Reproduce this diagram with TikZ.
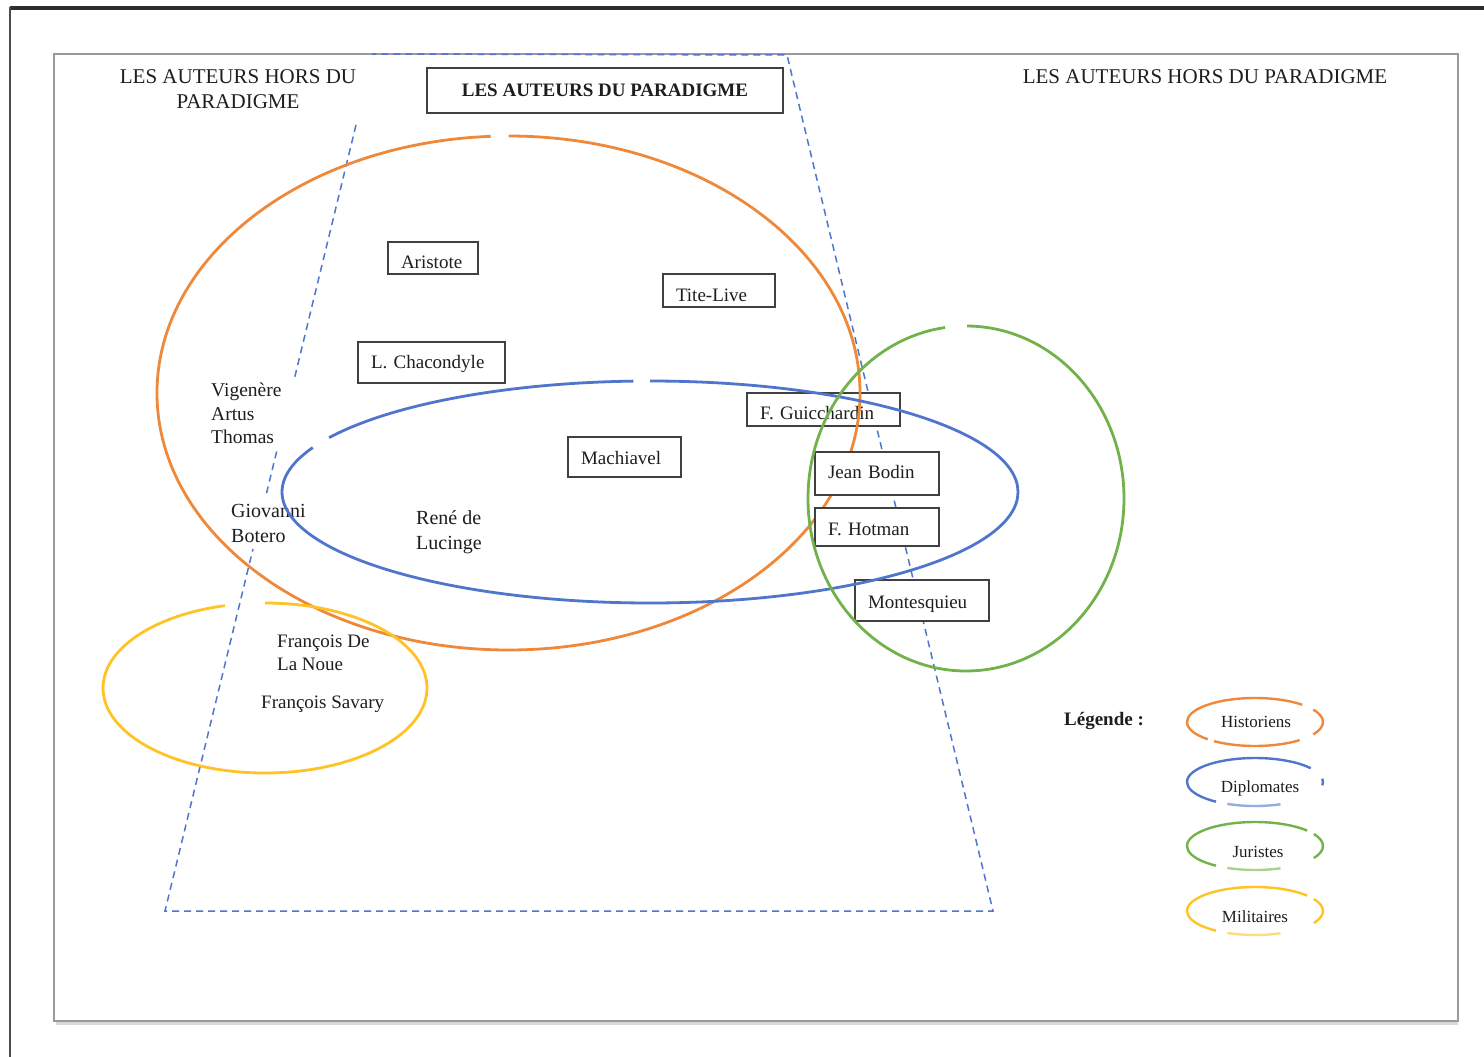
\documentclass[tikz,border=0pt]{standalone}
\usepackage{fontspec}
\setmainfont{Liberation Serif}
\definecolor{cOrange}{HTML}{F0883A}
\definecolor{cBlue}{HTML}{4F76CC}
\definecolor{cGreen}{HTML}{72B24A}
\definecolor{cYellow}{HTML}{FFC325}
\definecolor{cFrame}{HTML}{9A9A9A}
\definecolor{cBox}{HTML}{404040}
\definecolor{cText}{HTML}{1E1E1E}
\newcommand\lowtxt[2]{\raisebox{-#1}[\height][\depth]{#2}}
\tikzset{
  namebox/.style={draw=cBox, line width=1.8pt, fill=white, inner xsep=13pt, inner ysep=0pt,
    align=left, text=cText, font=\fontsize{19}{23}\selectfont, anchor=center},
  freetext/.style={align=left, text=cText, font=\fontsize{19.5}{23.5}\selectfont, inner sep=0pt},
  titletext/.style={align=center, text=cText, font=\fontsize{21}{25}\selectfont, inner sep=0pt},
  trap/.style={draw=cBlue, line width=1.5pt, dash pattern=on 7pt off 5pt},
  bigell/.style={line width=2.8pt},
  legell/.style={line width=2.4pt},
  legtext/.style={text=cText, font=\fontsize{17}{20}\selectfont, inner sep=0pt}
}
\begin{document}
\begin{tikzpicture}[x=1pt,y=-1pt]
\useasboundingbox (0,0) rectangle (1484,1057);
\fill[white] (0,0) rectangle (1484,1057);
% page frame
\draw[line width=4pt, color=black!82] (10,8) -- (1484,8);
\draw[line width=2pt, color=black!70] (10,7) -- (10,1057);
\draw[line width=3pt, color=black!15] (56,1023.5) -- (1458,1023.5);
\draw[line width=1.8pt, color=cFrame] (54,54) rectangle (1458,1021);

% dashed trapezoid (paradigm zone)
\draw[trap] (356,125) -- (165,911) -- (993,911) -- (787,55) -- (372,54);

% titles
\node[titletext] (tl) at (238,89) {LES AUTEURS HORS DU\\PARADIGME};
\node[titletext] (tr) at (1205,77) {LES AUTEURS HORS DU PARADIGME};
\node[draw=cBox, line width=1.8pt, fill=white, minimum width=356pt, minimum height=45pt,
  font=\fontsize{19}{23}\selectfont\bfseries, text=cText, inner sep=0pt] (tc) at (605,90.5) {LES AUTEURS DU PARADIGME};

% free texts (white background hides the dashed line)
\node[freetext, fill=white, anchor=north west, text width=84pt, inner xsep=3pt, inner ysep=6pt] (vig) at (208,377) {Vigenère\\Artus\\Thomas};
\node[freetext, fill=white, anchor=north west, text width=80pt, inner xsep=3pt, inner ysep=6pt, font=\fontsize{20}{25}\selectfont] (gio) at (228,498) {Giovanni\\Botero};
\node[freetext, anchor=north west, font=\fontsize{20}{25}\selectfont] (ren) at (416,510) {René de\\Lucinge};
\node[freetext, anchor=north west, font=\fontsize{19}{23}\selectfont] (fdn) at (277,635) {François De\\La Noue};
\node[freetext, anchor=north west, font=\fontsize{19}{23}\selectfont] (fsa) at (261,696) {François Savary};

% box drawn below the orange ellipse
\node[namebox, text width=127pt, minimum height=33pt] (gui) at (823.5,409.5) {\lowtxt{4pt}{F. Guicchardin}};

% orange (historiens) and yellow (militaires) ellipses
\draw[bigell, cOrange] (508.5,393) ++(270:351.5 and 257) arc[start angle=270, end angle=627.1, x radius=351.5, y radius=257];
\draw[bigell, cYellow] (265,688) ++(270:162 and 85) arc[start angle=270, end angle=615.7, x radius=162, y radius=85];

% name boxes
\node[namebox, text width=64pt, minimum height=32pt] (ari) at (433,258) {\lowtxt{4pt}{Aristote}};
\node[namebox, text width=86pt, minimum height=33pt] (tit) at (719,290.5) {\lowtxt{5pt}{Tite-Live}};
\node[namebox, text width=121pt, minimum height=41pt] (cha) at (431.5,362.5) {\lowtxt{1pt}{L. Chacondyle}};
\node[namebox, text width=87pt, minimum height=40pt] (mac) at (624.5,457) {\lowtxt{1pt}{Machiavel}};
\node[namebox, text width=98pt, minimum height=43pt] (bod) at (877,473.5) {\lowtxt{-2pt}{Jean Bodin}};
\node[namebox, text width=98pt, minimum height=38pt] (hot) at (877,527) {\lowtxt{2pt}{F. Hotman}};
\node[namebox, text width=108pt, minimum height=41pt] (mon) at (922,600.5) {\lowtxt{4pt}{Montesquieu}};

% blue (diplomates) and green (juristes) ellipses
\draw[bigell, cBlue] (650,492) ++(209.3:368 and 111) arc[start angle=209.3, end angle=267.4, x radius=368, y radius=111];
\draw[bigell, cBlue] (650,492) ++(270:368 and 111) arc[start angle=270, end angle=563.6, x radius=368, y radius=111];
\draw[bigell, cGreen] (966,498.5) ++(270.4:158 and 172.5) arc[start angle=270.4, end angle=622.4, x radius=158, y radius=172.5];

% legend
\node[text=cText, font=\fontsize{19}{23}\selectfont\bfseries, inner sep=0pt] (leg) at (1104,721) {Légende :};
% Historiens
\draw[legell, cOrange] (1255,722) ++(134:68 and 24) arc[start angle=134, end angle=314, x radius=68, y radius=24];
\draw[legell, cOrange] (1255,722) ++(329:68 and 24) arc[start angle=329, end angle=391, x radius=68, y radius=24];
\draw[legell, cOrange] (1255,722) ++(49:68 and 24) arc[start angle=49, end angle=127, x radius=68, y radius=24];
\node[legtext] (lh) at (1256,722) {Historiens};
% Diplomates
\draw[legell, cBlue] (1255,782) ++(125:68 and 24) arc[start angle=125, end angle=325, x radius=68, y radius=24];
\draw[legell, cBlue] (1255,782) ++(352:68 and 24) arc[start angle=352, end angle=368, x radius=68, y radius=24];
\draw[legell, cBlue!60] (1255,782) ++(68:68 and 24) arc[start angle=68, end angle=114, x radius=68, y radius=24];
\node[legtext] (ld) at (1260,788) {Diplomates};
% Juristes
\draw[legell, cGreen] (1255,846) ++(125:68 and 24) arc[start angle=125, end angle=320, x radius=68, y radius=24];
\draw[legell, cGreen] (1255,846) ++(330:68 and 24) arc[start angle=330, end angle=390, x radius=68, y radius=24];
\draw[legell, cGreen!60] (1255,846) ++(68:68 and 24) arc[start angle=68, end angle=114, x radius=68, y radius=24];
\node[legtext] (lj) at (1258,852) {Juristes};
% Militaires
\draw[legell, cYellow] (1255,911) ++(125:68 and 24) arc[start angle=125, end angle=320, x radius=68, y radius=24];
\draw[legell, cYellow] (1255,911) ++(330:68 and 24) arc[start angle=330, end angle=390, x radius=68, y radius=24];
\draw[legell, cYellow!60] (1255,911) ++(68:68 and 24) arc[start angle=68, end angle=114, x radius=68, y radius=24];
\node[legtext] (lm) at (1255,917) {Militaires};
\end{tikzpicture}
\end{document}
